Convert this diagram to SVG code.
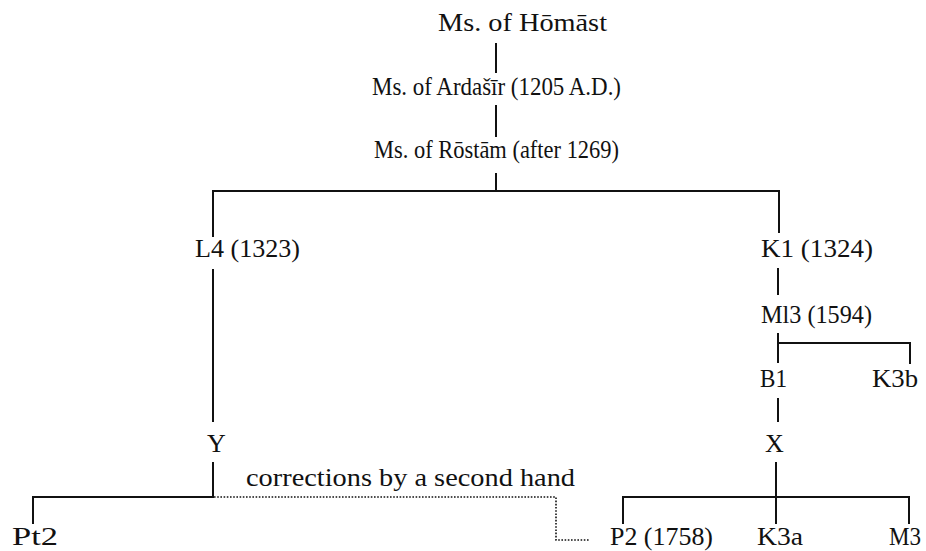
<svg xmlns="http://www.w3.org/2000/svg" width="926" height="551" viewBox="0 0 926 551">
<style>
.c line,.c polyline{stroke:#111;stroke-width:2;fill:none;}
.c .dot{stroke:#111;stroke-width:1.6;stroke-dasharray:1.6 1.6;fill:none;}
text{font-family:"Liberation Serif","Tinos","Times New Roman","DejaVu Serif",Georgia,serif;font-size:26px;fill:#111;}
</style>
<rect width="926" height="551" fill="#fff"/>
<g class="c" id="connectors">
<line x1="496" y1="43" x2="496" y2="73"/>
<line x1="496" y1="105" x2="496" y2="137"/>
<line x1="496" y1="173" x2="496" y2="191"/>
<polyline points="213,237 213,191 779,191 779,233"/>
<line x1="213" y1="269" x2="213" y2="422"/>
<polyline points="213,462 213,497 33,497 33,524"/>
<polyline class="dot" points="214,497 556,497 556,540 590,540"/>
<line x1="778" y1="268" x2="778" y2="295"/>
<line x1="778" y1="333" x2="778" y2="363"/>
<polyline points="778,343 910,343 910,364"/>
<line x1="778" y1="398" x2="778" y2="422"/>
<line x1="776" y1="462" x2="776" y2="524"/>
<polyline points="623,524 623,497 909,497 909,524"/>
</g>
<g id="homast"><text x="438" y="31" textLength="169" lengthAdjust="spacingAndGlyphs">Ms. of Hōmāst</text></g>
<g id="ardasir"><text x="372" y="95" textLength="249" lengthAdjust="spacingAndGlyphs">Ms. of Ardašīr (1205 A.D.)</text></g>
<g id="rostam"><text x="374" y="158" textLength="245" lengthAdjust="spacingAndGlyphs">Ms. of Rōstām (after 1269)</text></g>
<g id="L4"><text x="195" y="257" textLength="105" lengthAdjust="spacingAndGlyphs">L4 (1323)</text></g>
<g id="K1"><text x="761" y="257" textLength="112" lengthAdjust="spacingAndGlyphs">K1 (1324)</text></g>
<g id="Ml3"><text x="761" y="323" textLength="111" lengthAdjust="spacingAndGlyphs">Ml3 (1594)</text></g>
<g id="B1"><text x="760" y="387" textLength="27" lengthAdjust="spacingAndGlyphs">B1</text></g>
<g id="K3b"><text x="872" y="387" textLength="46" lengthAdjust="spacingAndGlyphs">K3b</text></g>
<g id="Y"><text x="207" y="452">Y</text></g>
<g id="X"><text x="765" y="452">X</text></g>
<g id="note"><text x="246" y="486" textLength="329" lengthAdjust="spacingAndGlyphs">corrections by a second hand</text></g>
<g id="Pt2"><text x="12" y="545" textLength="46" lengthAdjust="spacingAndGlyphs">Pt2</text></g>
<g id="P2"><text x="610" y="545" textLength="103" lengthAdjust="spacingAndGlyphs">P2 (1758)</text></g>
<g id="K3a"><text x="757" y="545" textLength="46" lengthAdjust="spacingAndGlyphs">K3a</text></g>
<g id="M3"><text x="889" y="545" textLength="32" lengthAdjust="spacingAndGlyphs">M3</text></g>
</svg>
